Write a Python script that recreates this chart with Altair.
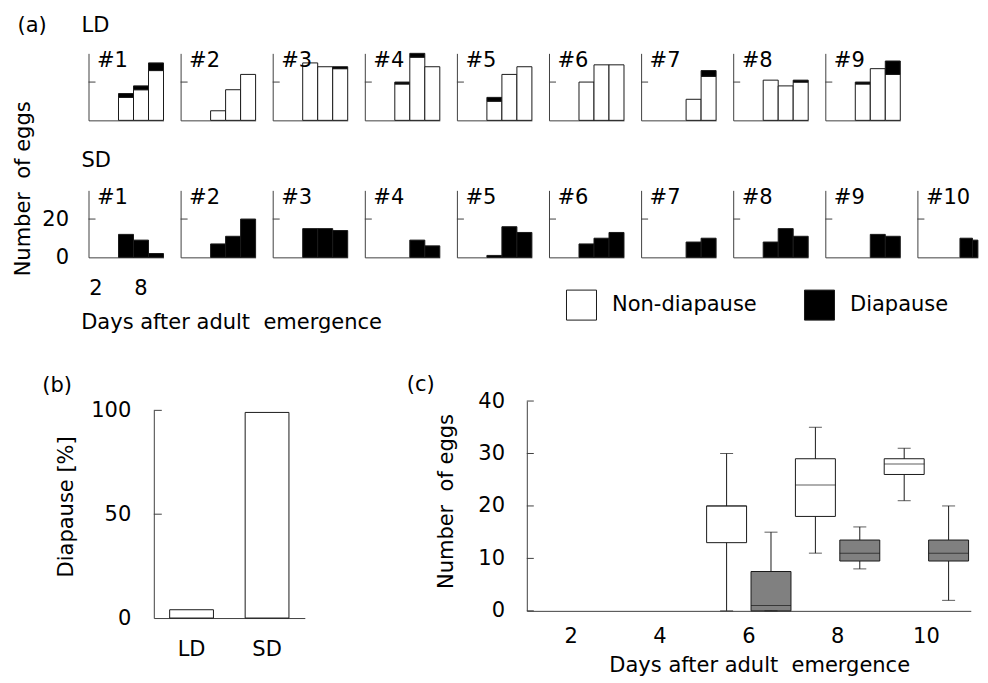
import altair as alt
import pandas as pd

# ---------------- data ----------------
DAYS = [2, 4, 6, 8, 10]
TYPES = ["Non-diapause", "Diapause"]

LD_IDS = ["#1", "#2", "#3", "#4", "#5", "#6", "#7", "#8", "#9"]
LD_NON = [
    [0, 0, 12, 16, 26],
    [0, 0, 5, 16, 24],
    [0, 0, 30, 28, 27],
    [0, 0, 19, 33, 28],
    [0, 0, 10, 24, 28],
    [0, 0, 20, 29, 29],
    [0, 0, 0, 11, 23],
    [0, 0, 21, 18, 20],
    [0, 0, 19, 27, 24],
]
LD_DIA = [
    [0, 0, 2, 2, 4],
    [0, 0, 0, 0, 0],
    [0, 0, 0, 0, 1],
    [0, 0, 1, 2, 0],
    [0, 0, 2, 0, 0],
    [0, 0, 0, 0, 0],
    [0, 0, 0, 0, 3],
    [0, 0, 0, 0, 1],
    [0, 0, 1, 0, 7],
]

SD_IDS = ["#1", "#2", "#3", "#4", "#5", "#6", "#7", "#8", "#9", "#10"]
SD_DIA = [
    [0, 0, 12, 9, 2],
    [0, 0, 7, 11, 20],
    [0, 0, 15, 15, 14],
    [0, 0, 0, 9, 6],
    [0, 0, 1, 16, 13],
    [0, 0, 7, 10, 13],
    [0, 0, 0, 8, 10],
    [0, 0, 8, 15, 11],
    [0, 0, 0, 12, 11],
    [0, 0, 0, 10, 9],
]

B_GROUPS = ["LD", "SD"]
B_VALUES = [4, 99]

C_DAYS = [6, 8, 10]
C_NON_LOWER = [0, 11, 21]
C_NON_Q1 = [13, 18, 26]
C_NON_MED = [20, 24, 28]
C_NON_Q3 = [20, 29, 29]
C_NON_UPPER = [30, 35, 31]
C_DIA_LOWER = [0, 8, 2]
C_DIA_Q1 = [0, 9.5, 9.5]
C_DIA_MED = [1, 11, 11]
C_DIA_Q3 = [7.5, 13.5, 13.5]
C_DIA_UPPER = [15, 16, 20]

# ---------------- style / layout ----------------
FONT = "DejaVu Sans"
FS = 21
AXC = "#404040"
EDGE = "#1a1a1a"
GRAY = "#808080"

PW, PH = 75, 67
P_SPACING = 17.1
LAST_CUT = 60.5          # the last SD panel is cut off by the figure edge
B_SHIFT = 65.3
B_PW = 151
B_H = 217
B_TOP = 9.3
C_W, C_H = 444, 209.8
BC_SPACING = 525.6 - 88 - (B_SHIFT + B_PW)


def label(s, x, y, align="left"):
    return alt.Chart(pd.DataFrame({"s": [s]})).mark_text(
        align=align, baseline="alphabetic", font=FONT, fontSize=FS, color="black"
    ).encode(text="s:N", x=alt.value(x), y=alt.value(y))


def inward_ticks(values, x0, length, axis):
    return alt.Chart(pd.DataFrame({"t": values})).mark_rule(color=AXC, strokeWidth=1).encode(
        y=alt.Y("t:Q", axis=axis), x=alt.value(x0), x2=alt.value(x0 + length)
    )


fill_scale = alt.Scale(domain=TYPES, range=["white", "black"])
legend = alt.Legend(
    title=None, orient="none", legendX=477.5, legendY=236, direction="horizontal",
    symbolType="square", symbolSize=900, symbolStrokeColor=EDGE, symbolStrokeWidth=1,
    labelFont=FONT, labelFontSize=FS, labelColor="black", labelOffset=15, labelLimit=400,
    columnPadding=45, padding=0, symbolOpacity=1,
)


def small_panel(name, non, dia, row, first, cut=None):
    rows = []
    for d, n, k in zip(DAYS, non, dia):
        if n:
            rows.append(dict(day=d, type="Non-diapause", ord=0, eggs=n))
        if k:
            rows.append(dict(day=d, type="Diapause", ord=1, eggs=k))
    df = pd.DataFrame(rows)
    if first and row == "SD":
        xax = alt.Axis(values=[2, 8], labelAngle=0, labelPadding=20,
                       title="Days after adult\u00a0 emergence", titleX=-7.8, titleY=71,
                       titleAlign="left", titleBaseline="alphabetic", titleAngle=0)
        yax = alt.Axis(values=[0, 20], labelPadding=20, title="Number\u00a0 of eggs",
                       titleX=-58.8, titleY=-2, titleAngle=270, titleAlign="center",
                       titleBaseline="alphabetic")
    else:
        xax = alt.Axis(labels=False, title=None)
        yax = alt.Axis(labels=False, title=None)
    yenc = alt.Y("eggs:Q", stack="zero", scale=alt.Scale(domain=[0, 35]), axis=yax)
    fenc = alt.Fill("type:N", scale=fill_scale, legend=legend)
    if cut is None:
        bars = alt.Chart(df).mark_bar(stroke=EDGE, strokeWidth=1).encode(
            x=alt.X("day:O", scale=alt.Scale(domain=DAYS, paddingInner=0, paddingOuter=0), axis=xax),
            y=yenc, fill=fenc, order=alt.Order("ord:Q"),
        )
    else:
        # panel cut off by the right edge of the figure: each bar spans day-1 .. day+1
        lo, hi = DAYS[0] - 1, DAYS[-1] + 1
        shown_hi = lo + (hi - lo) * cut / PW
        bars = alt.Chart(df).transform_calculate(
            d0="datum.day - 1", d1="datum.day + 1"
        ).mark_bar(stroke=EDGE, strokeWidth=1, orient="vertical").encode(
            x=alt.X("d0:Q", scale=alt.Scale(domain=[lo, shown_hi], clamp=True, nice=False, zero=False), axis=xax),
            x2="d1:Q",
            y=yenc, fill=fenc, order=alt.Order("ord:Q"),
        )
    layers = [bars, inward_ticks([20], 0, 7, yax), label(name, 8.5, 14)]
    if first and row == "LD":
        layers += [label("(a)", -71, -21), label("LD", -7, -21)]
    if first and row == "SD":
        layers += [label("SD", -7, -23)]
    return alt.layer(*layers).properties(width=PW if cut is None else cut, height=PH)


ld_row = alt.hconcat(
    *[small_panel(n, a, b, "LD", i == 0) for i, (n, a, b) in enumerate(zip(LD_IDS, LD_NON, LD_DIA))],
    spacing=P_SPACING, bounds="flush",
)
sd_row = alt.hconcat(
    *[small_panel(n, [0] * 5, b, "SD", i == 0, LAST_CUT if i == len(SD_IDS) - 1 else None)
      for i, (n, b) in enumerate(zip(SD_IDS, SD_DIA))],
    spacing=P_SPACING, bounds="flush",
)
block_a = alt.vconcat(ld_row, sd_row, spacing=137, bounds="flush")

# ---------------- (b) ----------------
b_yax = alt.Axis(values=[0, 50, 100], labelPadding=23, offset=-B_SHIFT, title="Diapause [%]",
                 titleX=-81.3, titleY=105.3, titleAngle=270, titleAlign="center",
                 titleBaseline="alphabetic")
b_df = pd.DataFrame({"cond": B_GROUPS, "pct": B_VALUES})
b_bars = alt.Chart(b_df).mark_bar(fill="white", stroke=EDGE, strokeWidth=1).encode(
    x=alt.X("cond:N", sort=B_GROUPS,
            scale=alt.Scale(domain=B_GROUPS, range=[B_SHIFT, B_SHIFT + B_PW], paddingInner=0.42, paddingOuter=0.21),
            axis=alt.Axis(title=None, labelAngle=0, labelPadding=20)),
    y=alt.Y("pct:Q", scale=alt.Scale(domain=[0, 100], range=[B_H, B_TOP]), axis=b_yax),
)
b_chart = alt.layer(
    b_bars, inward_ticks([50, 100], B_SHIFT, 8, b_yax), label("(b)", -46.3, -8.7)
).properties(width=B_SHIFT + B_PW, height=B_H)

# ---------------- (c) ----------------
c_rows = []
for i, d in enumerate(C_DAYS):
    c_rows.append(dict(day=d, type="Non-diapause", lower=C_NON_LOWER[i], q1=C_NON_Q1[i],
                       med=C_NON_MED[i], q3=C_NON_Q3[i], upper=C_NON_UPPER[i]))
    c_rows.append(dict(day=d, type="Diapause", lower=C_DIA_LOWER[i], q1=C_DIA_Q1[i],
                       med=C_DIA_MED[i], q3=C_DIA_Q3[i], upper=C_DIA_UPPER[i]))
c_df = pd.DataFrame(c_rows)
cx = alt.X("day:O", scale=alt.Scale(domain=DAYS, paddingInner=0, paddingOuter=0),
           axis=alt.Axis(labelAngle=0, labelPadding=15, title="Days after adult\u00a0 emergence",
                         titleX=232.4, titleY=60.5, titleAlign="center", titleBaseline="alphabetic",
                         titleAngle=0))
cxo = alt.XOffset("type:N", scale=alt.Scale(domain=TYPES, paddingInner=0.1, paddingOuter=0.05))
c_yax = alt.Axis(values=[0, 10, 20, 30, 40], labelPadding=22.3, title="Number\u00a0 of eggs",
                 titleX=-74.6, titleY=100, titleAngle=270, titleAlign="center",
                 titleBaseline="alphabetic")
c_ysc = alt.Scale(domain=[0, 40])
base = alt.Chart(c_df)
whisker = base.mark_rule(color=EDGE, strokeWidth=1).encode(
    x=cx, xOffset=cxo, y=alt.Y("lower:Q", scale=c_ysc, axis=c_yax), y2="upper:Q",
)
box = base.mark_bar(stroke=EDGE, strokeWidth=1).encode(
    x=cx, xOffset=cxo, y=alt.Y("q1:Q", scale=c_ysc, axis=c_yax), y2="q3:Q",
    fill=alt.condition("datum.type === 'Diapause'", alt.value(GRAY), alt.value("white")),
)
cap_lo = base.mark_tick(size=13, thickness=1, color=EDGE).encode(
    x=cx, xOffset=cxo, y=alt.Y("lower:Q", scale=c_ysc, axis=c_yax))
cap_hi = base.mark_tick(size=13, thickness=1, color=EDGE).encode(
    x=cx, xOffset=cxo, y=alt.Y("upper:Q", scale=c_ysc, axis=c_yax))
median = base.mark_tick(size=40, thickness=1, color=EDGE).encode(
    x=cx, xOffset=cxo, y=alt.Y("med:Q", scale=c_ysc, axis=c_yax))
c_chart = alt.layer(
    whisker, box, cap_lo, cap_hi, median,
    inward_ticks([0, 10, 20, 30, 40], 0, 7, c_yax), label("(c)", -120, -9.7)
).properties(width=C_W, height=C_H)

block_bc = alt.hconcat(b_chart, c_chart, spacing=BC_SPACING, bounds="flush")

chart = alt.vconcat(block_a, block_bc, spacing=347.7, bounds="flush").properties(
    padding={"left": 4.5, "top": 7.35, "right": 0, "bottom": 3}
).configure_view(stroke=None).configure_axis(
    grid=False, ticks=False, domainColor=AXC, domainWidth=1,
    labelFont=FONT, labelFontSize=FS, labelColor="black",
    titleFont=FONT, titleFontSize=FS, titleFontWeight="normal", titleColor="black",
)

chart.save("out.html", embed_options={"renderer": "svg", "actions": False})
